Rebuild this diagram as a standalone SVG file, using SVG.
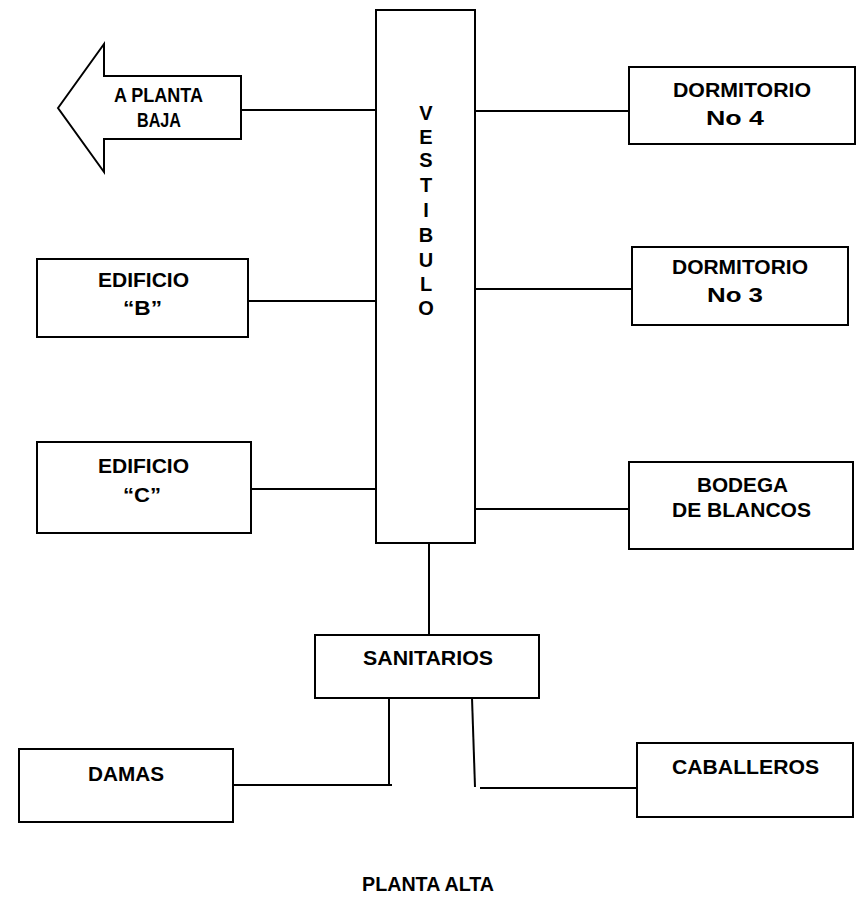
<svg xmlns="http://www.w3.org/2000/svg" width="856" height="900" viewBox="0 0 856 900">
  <style>
    .box { fill: #ffffff; stroke: #000000; stroke-width: 2; }
    .wire { fill: none; stroke: #000000; stroke-width: 2; }
    .lbl { font-family: "Liberation Sans", Arial, sans-serif; font-weight: bold; font-size: 20px; fill: #000000; text-anchor: middle; }
    .lt { font-family: "Liberation Sans", Arial, sans-serif; font-weight: bold; font-size: 20px; fill: #000000; }
  </style>
  <rect width="856" height="900" fill="#ffffff"/>

  <!-- connectors -->
  <g id="connectors">
    <line class="wire" x1="241" y1="110" x2="376" y2="110"/>
    <line class="wire" x1="475" y1="111" x2="629" y2="111"/>
    <line class="wire" x1="248" y1="301" x2="376" y2="301"/>
    <line class="wire" x1="475" y1="289" x2="632" y2="289"/>
    <line class="wire" x1="251" y1="489" x2="376" y2="489"/>
    <line class="wire" x1="475" y1="509" x2="629" y2="509"/>
    <line class="wire" x1="429" y1="543" x2="429" y2="635"/>
    <polyline class="wire" points="389,698 389,785 233,785"/>
    <line class="wire" x1="389" y1="785" x2="392" y2="785"/>
    <line class="wire" x1="472" y1="698" x2="475" y2="787"/>
    <line class="wire" x1="480" y1="788" x2="637" y2="788"/>
  </g>

  <!-- exit arrow -->
  <g id="a-planta-baja">
    <polygon class="box" points="58,108 104,44 104,76 241,76 241,139 104,139 104,172"/>
    <text class="lt" x="114" y="102" textLength="89" lengthAdjust="spacingAndGlyphs">A PLANTA</text>
    <text class="lt" x="137" y="127" textLength="44" lengthAdjust="spacingAndGlyphs">BAJA</text>
  </g>

  <!-- central hall -->
  <g id="vestibulo">
    <rect class="box" x="376" y="10" width="99" height="533"/>
    <text class="lbl" x="426" y="120">V</text>
    <text class="lbl" x="426" y="144">E</text>
    <text class="lbl" x="426" y="167">S</text>
    <text class="lbl" x="426" y="192">T</text>
    <text class="lbl" x="426" y="217">I</text>
    <text class="lbl" x="426" y="242">B</text>
    <text class="lbl" x="426" y="267">U</text>
    <text class="lbl" x="426" y="291">L</text>
    <text class="lbl" x="426" y="315">O</text>
  </g>

  <g id="dormitorio-4">
    <rect class="box" x="629" y="67" width="226" height="77"/>
    <text class="lt" x="673" y="97" textLength="138" lengthAdjust="spacingAndGlyphs">DORMITORIO</text>
    <text class="lt" x="706" y="125" textLength="58" lengthAdjust="spacingAndGlyphs">No 4</text>
  </g>

  <g id="dormitorio-3">
    <rect class="box" x="632" y="247" width="216" height="78"/>
    <text class="lt" x="672" y="274" textLength="136" lengthAdjust="spacingAndGlyphs">DORMITORIO</text>
    <text class="lt" x="707" y="302" textLength="56" lengthAdjust="spacingAndGlyphs">No 3</text>
  </g>

  <g id="edificio-b">
    <rect class="box" x="37" y="259" width="211" height="78"/>
    <text class="lt" x="98" y="287" textLength="91" lengthAdjust="spacingAndGlyphs">EDIFICIO</text>
    <text class="lt" x="123" y="315" textLength="39" lengthAdjust="spacingAndGlyphs">“B”</text>
  </g>

  <g id="edificio-c">
    <rect class="box" x="37" y="442" width="214" height="91"/>
    <text class="lt" x="98" y="473" textLength="91" lengthAdjust="spacingAndGlyphs">EDIFICIO</text>
    <text class="lt" x="123" y="502" textLength="38" lengthAdjust="spacingAndGlyphs">“C”</text>
  </g>

  <g id="bodega-de-blancos">
    <rect class="box" x="629" y="462" width="224" height="87"/>
    <text class="lt" x="697" y="492" textLength="91" lengthAdjust="spacingAndGlyphs">BODEGA</text>
    <text class="lt" x="672" y="517" textLength="139" lengthAdjust="spacingAndGlyphs">DE BLANCOS</text>
  </g>

  <g id="sanitarios">
    <rect class="box" x="315" y="635" width="224" height="63"/>
    <text class="lt" x="363" y="665" textLength="130" lengthAdjust="spacingAndGlyphs">SANITARIOS</text>
  </g>

  <g id="damas">
    <rect class="box" x="19" y="749" width="214" height="73"/>
    <text class="lt" x="88" y="781" textLength="76" lengthAdjust="spacingAndGlyphs">DAMAS</text>
  </g>

  <g id="caballeros">
    <rect class="box" x="637" y="743" width="216" height="74"/>
    <text class="lt" x="672" y="774" textLength="147" lengthAdjust="spacingAndGlyphs">CABALLEROS</text>
  </g>

  <!-- sheet title -->
  <text id="titulo" class="lt" x="362" y="891" textLength="132" lengthAdjust="spacingAndGlyphs">PLANTA ALTA</text>
</svg>
